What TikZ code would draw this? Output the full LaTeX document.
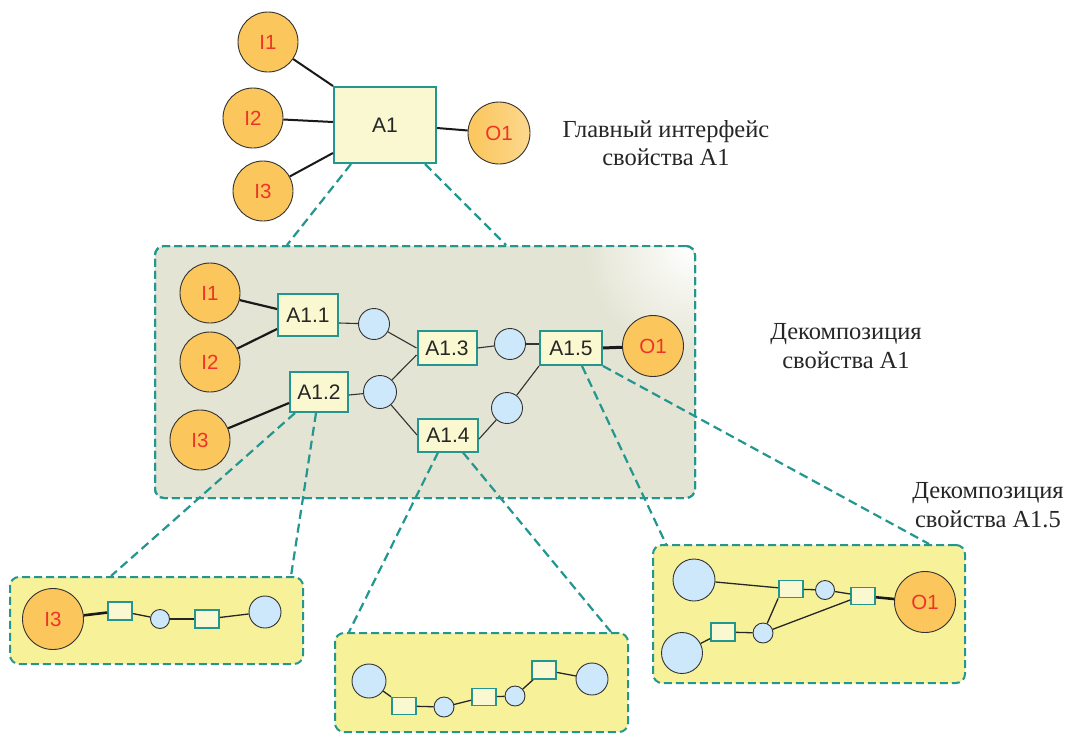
\documentclass[tikz,border=0pt]{standalone}
\usepackage{fontspec}
\setmainfont{Liberation Serif}
\setsansfont{Liberation Sans}
\usetikzlibrary{calc}
\definecolor{tealc}{RGB}{35,150,143}
\definecolor{boxfill}{RGB}{250,248,208}
\definecolor{orfill}{RGB}{251,198,92}
\definecolor{redlab}{RGB}{238,52,40}
\definecolor{bluefill}{RGB}{205,232,250}
\definecolor{panelgray}{RGB}{228,228,212}
\definecolor{panelyel}{RGB}{247,242,154}
\definecolor{edgegray}{RGB}{50,50,50}
\tikzset{
  orc/.style={circle, draw=edgegray, line width=0.9pt, fill=orfill, inner sep=0pt,
    font=\sffamily\fontsize{20.5}{20.5}\selectfont, text=redlab},
  bluec/.style={circle, draw=edgegray, line width=0.9pt, fill=bluefill, inner sep=0pt},
  abox/.style={rectangle, draw=tealc, line width=2pt, fill=boxfill, inner sep=0pt,
    font=\sffamily\fontsize{21}{21}\selectfont, text=black!85},
  sbox/.style={rectangle, draw=tealc, line width=1.8pt, fill=boxfill, inner sep=0pt,
    minimum width=24pt, minimum height=18pt},
  panel/.style={rectangle, rounded corners=9pt, draw=tealc, line width=2pt,
    dash pattern=on 8pt off 4pt, inner sep=0pt},
  dashc/.style={draw=tealc, line width=2.2pt, dash pattern=on 9pt off 5pt},
  thickc/.style={draw=black!90, line width=2.2pt},
  thinc/.style={draw=edgegray, line width=1.1pt},
  sthin/.style={draw=black!85, line width=1.3pt},
  caption/.style={align=center, font=\rmfamily\fontsize{24.5}{28.5}\selectfont, text=black!85, inner sep=0pt}
}
\begin{document}
\begin{tikzpicture}[x=1pt,y=-1pt]
\useasboundingbox (0,0) rectangle (1068,734);
\fill[white] (0,0) rectangle (1068,734);

% ---------- top level ----------
\node[abox, minimum width=102pt, minimum height=76pt] (A1) at (385,125) {A1};
\node[orc, minimum size=60pt] (tI1) at (268,42) {I1};
\node[orc, minimum size=60pt] (tI2) at (253,118) {I2};
\node[orc, minimum size=60pt] (tI3) at (263,191) {I3};
\node[orc, minimum size=62pt, left color=orfill, right color=orfill!70!white] (tO1) at (499,133) {O1};
\draw[thickc, line width=2pt] (tI1) -- (A1.north west);
\draw[thickc, line width=2pt] (tI2) -- ([yshift=3pt]A1.west);
\draw[thickc, line width=2pt] (tI3) -- ([yshift=-28pt]A1.west);
\draw[thickc, line width=2pt] (tO1) -- ([yshift=-3pt]A1.east);

% ---------- middle panel ----------
\node[panel, fill=panelgray, minimum width=540pt, minimum height=252pt] (P) at (425,372) {};
\begin{scope}
  \clip[rounded corners=9pt] (156,247) rectangle (694,497);
  \shade[inner color=white, outer color=panelgray] (694,247) circle (110pt);
\end{scope}
\node[panel, minimum width=540pt, minimum height=252pt] (Pb) at (425,372) {};

\draw[dashc] ([xshift=18pt]A1.south west) -- ([xshift=133pt]P.north west);
\draw[dashc] ([xshift=-12pt]A1.south east) -- ([xshift=-190pt]P.north east);

% bottom panels
\node[panel, fill=panelyel, minimum width=293pt, minimum height=87pt] (B1) at (156.5,620.5) {};
\node[panel, fill=panelyel, minimum width=293pt, minimum height=99pt] (B2) at (481.5,682.5) {};
\node[panel, fill=panelyel, minimum width=312pt, minimum height=138pt] (B3) at (809,614) {};

% middle nodes
\node[abox, minimum width=60pt, minimum height=42pt] (A11) at (308,315) {A1.1};
\node[abox, minimum width=58pt, minimum height=40pt] (A12) at (319,392) {A1.2};
\node[abox, minimum width=59pt, minimum height=34pt] (A13) at (447,348) {A1.3};
\node[abox, minimum width=60pt, minimum height=33pt] (A14) at (448,435) {A1.4};
\node[abox, minimum width=62pt, minimum height=34pt] (A15) at (571,348) {A1.5};

% dashed zoom connectors
\draw[dashc] ([xshift=6pt]A12.south west) -- ([xshift=102pt]B1.north west);
\draw[dashc] ([xshift=-3pt]A12.south) -- ([xshift=-13pt]B1.north east);
\draw[dashc] ([xshift=-10pt]A14.south) -- ([xshift=15pt]B2.north west);
\draw[dashc] ([xshift=15pt]A14.south) -- ([xshift=-18pt]B2.north east);
\draw[dashc] ([xshift=11pt]A15.south) -- ([xshift=14pt]B3.north west);
\draw[dashc] (A15.south east) -- ([xshift=-37pt]B3.north east);

\node[orc, minimum size=60pt] (mI1) at (210,293) {I1};
\node[orc, minimum size=60pt] (mI2) at (210,362) {I2};
\node[orc, minimum size=60pt] (mI3) at (200,440) {I3};
\node[orc, minimum size=61pt] (mO1) at (653,346) {O1};
\node[bluec, minimum size=31pt] (c1) at (374,324) {};
\node[bluec, minimum size=33pt] (c2) at (380,392) {};
\node[bluec, minimum size=31pt] (c3) at (510,344) {};
\node[bluec, minimum size=31pt] (c4) at (507,408) {};

\draw[thickc] (mI1) -- ([yshift=6pt]A11.west);
\draw[thickc] (mI2) -- ([yshift=-14pt]A11.west);
\draw[thickc] (mI3) -- ([yshift=-11pt]A12.west);
\draw[thinc] ([yshift=-8pt]A11.east) -- (c1);
\draw[thinc] (c1) -- (A13.west);
\draw[thinc] ([yshift=-3pt]A12.east) -- (c2);
\draw[thinc] (c2) -- ([yshift=-7pt]A13.west);
\draw[thinc] (c2) -- (A14.west);
\draw[thinc] (A13.east) -- (c3);
\draw[thinc] (c3) -- ([yshift=4pt]A15.west);
\draw[thinc] ([yshift=-4pt]A14.east) -- (c4);
\draw[thinc] (c4) -- (A15.south west);
\draw[thickc, line width=3pt] (A15.east) -- (mO1);

% ---------- bottom left panel ----------
\node[orc, minimum size=61pt] (sI3) at (53,619) {I3};
\node[sbox] (s1a) at (120,611) {};
\node[bluec, minimum size=19pt] (s1b) at (160,619) {};
\node[sbox] (s1c) at (207,619) {};
\node[bluec, minimum size=32pt] (s1d) at (265,612) {};
\draw[thickc, line width=2.6pt] (sI3) -- (s1a);
\draw[sthin] (s1a) -- (s1b);
\draw[sthin] (s1b) -- (s1c);
\draw[sthin] (s1c) -- (s1d);

% ---------- bottom middle panel ----------
\node[bluec, minimum size=34pt] (s2a) at (369,681) {};
\node[sbox, minimum height=17pt] (s2b) at (404,706) {};
\node[bluec, minimum size=20pt] (s2c) at (444,707) {};
\node[sbox, minimum height=17pt] (s2d) at (484,697) {};
\node[bluec, minimum size=20pt] (s2e) at (515,696) {};
\node[sbox] (s2f) at (544,670) {};
\node[bluec, minimum size=32pt] (s2g) at (592,679) {};
\draw[sthin] (s2a) -- (s2b);
\draw[sthin] (s2b) -- (s2c);
\draw[sthin] (s2c) -- (s2d);
\draw[sthin] (s2d) -- (s2e);
\draw[sthin] (s2e) -- (s2f);
\draw[sthin] (s2f) -- (s2g);

% ---------- bottom right panel ----------
\node[bluec, minimum size=42pt] (s3A) at (694,580) {};
\node[bluec, minimum size=41pt] (s3B) at (682,653) {};
\node[sbox, minimum height=17pt] (s3b1) at (791,589) {};
\node[bluec, minimum size=19pt] (s3c1) at (825,590) {};
\node[sbox, minimum height=17pt] (s3b2) at (863,596) {};
\node[orc, minimum size=61pt] (s3O1) at (925,602) {O1};
\node[sbox] (s3b3) at (723,632) {};
\node[bluec, minimum size=20pt] (s3c2) at (763,633) {};
\draw[sthin] (s3A) -- (s3b1);
\draw[sthin] (s3b1) -- (s3c1);
\draw[sthin] (s3c1) -- (s3b2);
\draw[thickc, line width=2.6pt] (s3b2) -- (s3O1);
\draw[sthin] (s3B) -- (s3b3);
\draw[sthin] (s3b3) -- (s3c2);
\draw[sthin] (s3c2) -- (s3b1.south west);
\draw[sthin] (s3c2) -- ([yshift=-4pt]s3b2.west);

% ---------- captions ----------
\node[caption] (t1) at (666,143) {Главный интерфейс\\свойства А1};
\node[caption] (t2) at (846,346) {Декомпозиция\\свойства А1};
\node[caption] (t3) at (988,505) {Декомпозиция\\свойства А1.5};
\end{tikzpicture}
\end{document}
